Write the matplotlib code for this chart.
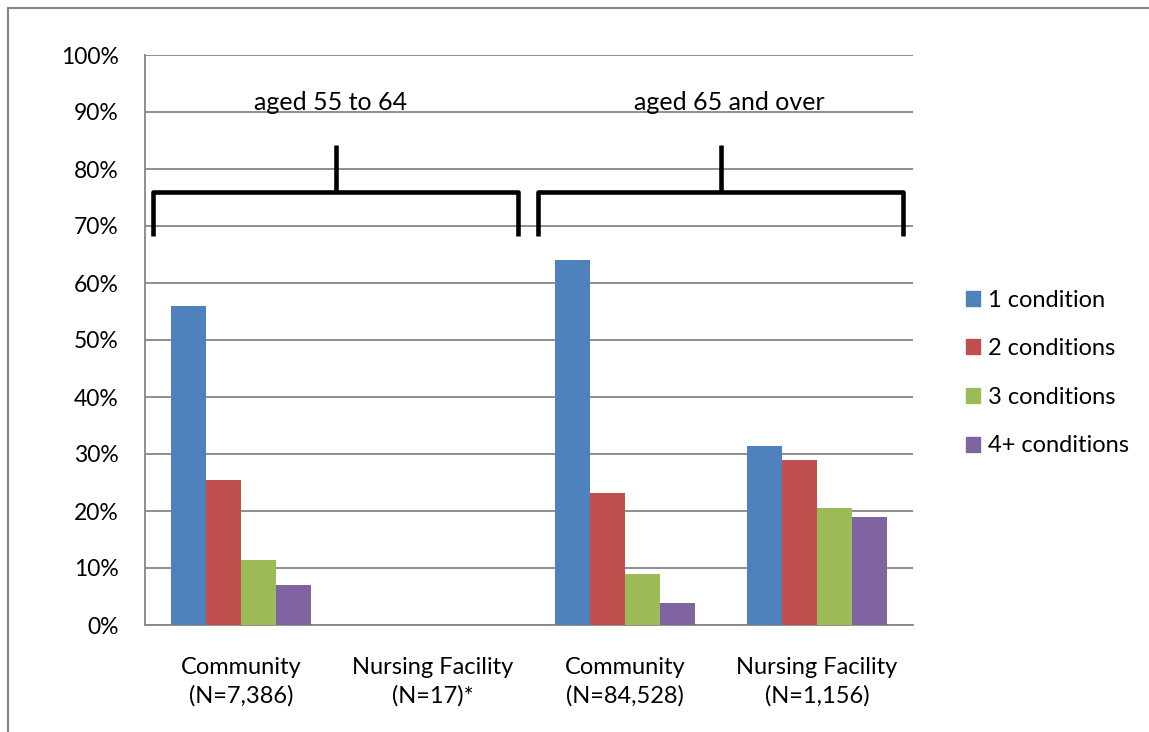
import numpy as np
import matplotlib
matplotlib.use('Agg')
import matplotlib.pyplot as plt
from matplotlib.lines import Line2D

plt.rcParams['font.family'] = ['Lato', 'DejaVu Sans']

# Share of people by number of chronic conditions, per setting and age group.
categories = ['Community\n(N=7,386)', 'Nursing Facility\n(N=17)*',
              'Community\n(N=84,528)', 'Nursing Facility\n(N=1,156)']
series_names = ['1 condition', '2 conditions', '3 conditions', '4+ conditions']
one_cond = [56.0, np.nan, 64.1, 31.4]
two_cond = [25.5, np.nan, 23.1, 28.9]
three_cond = [11.4, np.nan, 9.0, 20.5]
four_cond = [7.1, np.nan, 3.8, 18.9]
age_groups = ['aged 55 to 64', 'aged 65 and over']
y_ticks = list(range(0, 101, 10))

colors = ['#4F81BD', '#C0504D', '#9BBB59', '#8064A2']
grid_col = '#868686'

W, H = 1149, 732
fig = plt.figure(figsize=(W / 100, H / 100), dpi=100)
ax = fig.add_axes([145 / W, (H - 625) / H, 768 / W, 570 / H])

x = np.arange(len(categories))
bw = 0.182
for i, (vals, name, c) in enumerate(zip(
        [one_cond, two_cond, three_cond, four_cond], series_names, colors)):
    vals = np.array(vals, dtype=float)
    ok = ~np.isnan(vals)
    ax.bar(x[ok] + (i - 1.5) * bw, vals[ok], bw, color=c, label=name,
           zorder=3, linewidth=0)

ax.set_xlim(-0.5, len(categories) - 0.5)
ax.set_ylim(0, 100)
ax.set_yticks(y_ticks)
ax.set_yticklabels(['{}%'.format(t) for t in y_ticks], fontsize=16.5)
ax.set_xticks(x)
ax.set_xticklabels(categories, fontsize=17, linespacing=1.42)
ax.tick_params(axis='both', length=0, colors='#000000')
ax.tick_params(axis='y', pad=19)
ax.tick_params(axis='x', pad=23)
ax.yaxis.grid(True, color=grid_col, linewidth=1.3, zorder=0)
ax.set_axisbelow(True)
for side in ['top', 'right']:
    ax.spines[side].set_visible(False)
for side in ['left', 'bottom']:
    ax.spines[side].set_color(grid_col)
    ax.spines[side].set_linewidth(1.3)

# Braces grouping the two age bands.
brace_spans = [(-0.458, 1.443), (1.547, 3.448)]
label_x = [0.469, 2.542]
for (x0, x1), lx, label in zip(brace_spans, label_x, age_groups):
    xm = (x0 + x1) / 2
    ax.plot([x0, x0, x1, x1], [68.2, 76.0, 76.0, 68.2], color='black',
            lw=3.3, solid_joinstyle='round', solid_capstyle='butt',
            clip_on=False, zorder=5)
    ax.plot([xm, xm], [76.0, 84.2], color='black', lw=3.3,
            solid_capstyle='butt', clip_on=False, zorder=5)
    ax.text(lx, 91.6, label, ha='center', va='center', fontsize=18)

handles = [plt.Rectangle((0, 0), 1, 1, color=c) for c in colors]
fig.legend(handles, series_names, loc='center left',
           bbox_to_anchor=(966 / W, 1 - 373 / H), frameon=False,
           fontsize=17, handlelength=0.6, handleheight=0.6,
           handletextpad=0.35, labelspacing=1.17, borderpad=0,
           borderaxespad=0)

# Chart frame.
fig.add_artist(Line2D([8 / W, 1.0], [1 - 8 / H, 1 - 8 / H],
                      color=grid_col, lw=1.5))
fig.add_artist(Line2D([8 / W, 8 / W], [0.0, 1 - 8 / H],
                      color=grid_col, lw=1.5))

fig.savefig('out.png', dpi=100)
